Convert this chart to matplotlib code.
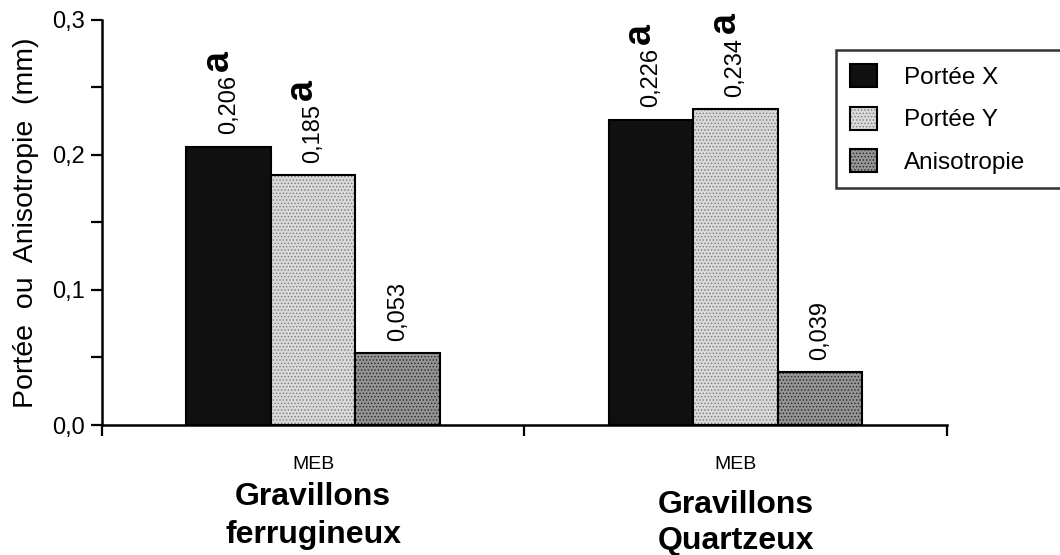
import matplotlib
matplotlib.use('Agg')
import matplotlib.pyplot as plt
import numpy as np

plt.rcParams['font.family'] = ['Liberation Sans', 'DejaVu Sans']
plt.rcParams['hatch.linewidth'] = 0.6

# data
groups = ['Gravillons\nferrugineux', 'Gravillons\nQuartzeux']
methods = ['MEB', 'MEB']
series = ['Portée X', 'Portée Y', 'Anisotropie']
portee_x = [0.206, 0.226]
portee_y = [0.185, 0.234]
anisotropie = [0.053, 0.039]
letters_x = ['a', 'a']
letters_y = ['a', 'a']

values = [portee_x, portee_y, anisotropie]
letters = [letters_x, letters_y, None]
faces = ['#101010', '#d9d9d9', '#949494']
hatch_cols = ['#101010', '#7a7a7a', '#262626']
hatches = [None, '.....', '.....']

fig = plt.figure(figsize=(10.6, 5.55), dpi=100)
ax = fig.add_axes([0.0962, 0.2342, 0.797, 0.730])

x = np.array([0.5, 1.5])
w = 0.2
offsets = [-w, 0, w]
handles = []
for vals, off, fc, hc, h, name, lets in zip(values, offsets, faces, hatch_cols,
                                             hatches, series, letters):
    base = ax.bar(x + off, vals, w, color=fc, edgecolor=hc, hatch=h, linewidth=0)
    edge = ax.bar(x + off, vals, w, fill=False, edgecolor='black', linewidth=1.5)
    handles.append((base, edge))
    for xi, v, i in zip(x + off, vals, range(len(vals))):
        t = ax.annotate(f'{v:.3f}'.replace('.', ','), (xi, v), xytext=(0, 9),
                        textcoords='offset points', rotation=90, ha='center',
                        va='bottom', fontsize=17, annotation_clip=False)
        if lets is not None:
            ax.annotate(lets[i], xy=(1.0, 1.0), xycoords=t, xytext=(-3, 3),
                        textcoords='offset points', rotation=90, ha='right',
                        va='bottom', fontsize=27, fontweight='bold',
                        annotation_clip=False)

ax.set_xlim(0, 2)
ax.set_ylim(0, 0.3)
ax.set_yticks([0, 0.1, 0.2, 0.3])
ax.set_yticklabels(['0,0', '0,1', '0,2', '0,3'], fontsize=17)
ax.set_yticks([0.05, 0.15, 0.25], minor=True)
ax.set_xticks([0, 1, 2])
ax.set_xticklabels([])
ax.set_xticks(x, minor=True)
ax.set_xticklabels(methods, minor=True, fontsize=14)
ax.tick_params(axis='x', which='minor', length=0, pad=22)
ax.tick_params(axis='both', which='major', length=8, width=1.6)
ax.tick_params(axis='y', which='minor', length=8, width=1.6)
ax.tick_params(axis='y', which='major', pad=4)

for s in ['top', 'right']:
    ax.spines[s].set_visible(False)
for s in ['left', 'bottom']:
    ax.spines[s].set_linewidth(1.8)

ax.set_ylabel('Portée  ou  Anisotropie  (mm)', fontsize=20.5, labelpad=10)

ax.text(0.5, -0.14, groups[0], transform=ax.get_xaxis_transform(), ha='center',
        va='top', fontsize=23, fontweight='bold', linespacing=1.35)
ax.text(1.5, -0.16, groups[1], transform=ax.get_xaxis_transform(), ha='center',
        va='top', fontsize=23, fontweight='bold', linespacing=1.25)

leg = fig.legend(handles, series, loc='upper left',
                 bbox_to_anchor=(836 / 1060, 1 - 50 / 555, 0.3, 0.0),
                 mode='expand', borderaxespad=0, fontsize=17.5, frameon=True,
                 fancybox=False, edgecolor='black', handlelength=1.1,
                 handleheight=1.1, handletextpad=1.1, labelspacing=0.72,
                 borderpad=0.58)
leg.get_frame().set_linewidth(1.8)

fig.savefig('out.png', dpi=100, facecolor='white')
